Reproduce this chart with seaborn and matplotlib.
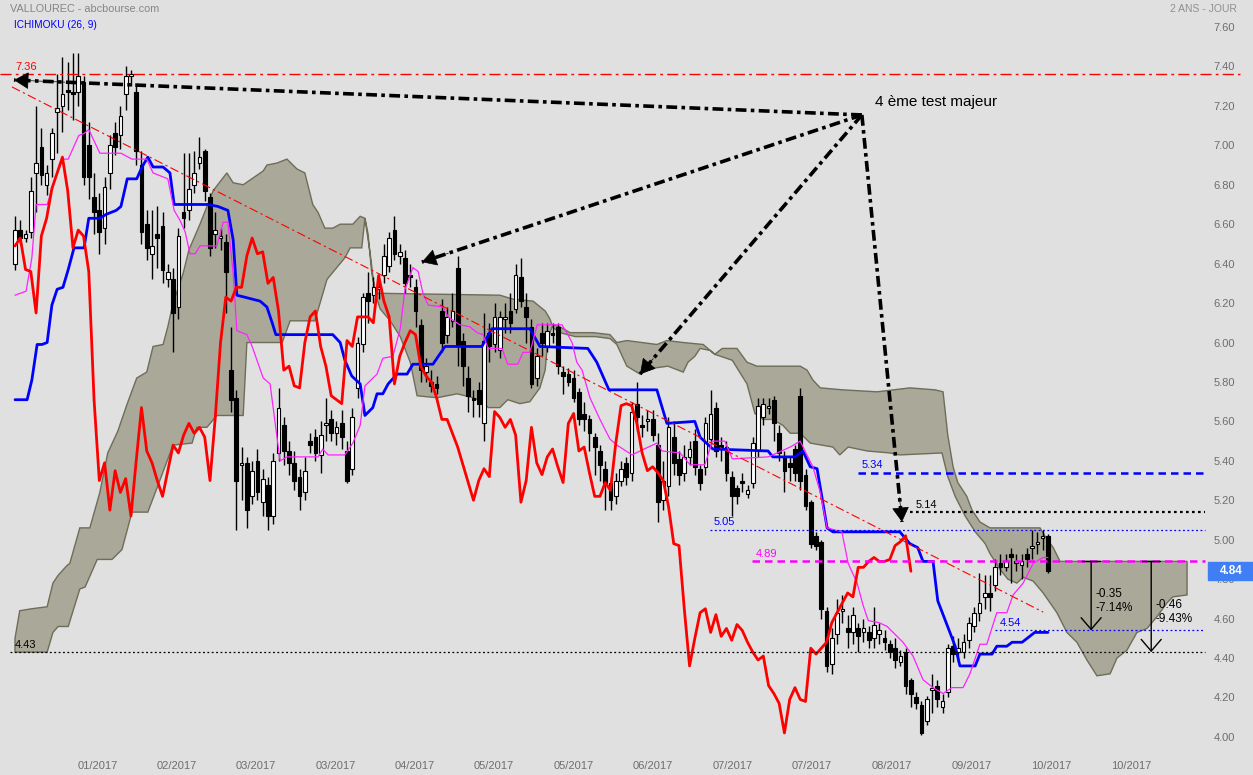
import numpy as np
import matplotlib
matplotlib.use('Agg')
import matplotlib.pyplot as plt
from matplotlib.patches import Rectangle
from matplotlib.transforms import blended_transform_factory
import seaborn as sns

# --- daily candles (oldest first) ---
opens = [6.40, 6.57, 6.53, 6.56, 6.86, 6.99, 6.80, 6.93, 7.17, 7.20,
         7.28, 7.27, 7.27, 7.32, 7.00, 6.74, 6.67, 6.58, 6.86, 7.06,
         7.05, 7.26, 7.35, 7.27, 6.90, 6.60, 6.45, 6.55, 6.59, 6.32,
         6.32, 6.18, 6.66, 6.67, 6.80, 6.91, 6.97, 6.74, 6.55, 6.53,
         6.51, 5.86, 5.72, 5.38, 5.39, 5.22, 5.40, 5.19, 5.28, 5.12,
         5.44, 5.58, 5.45, 5.39, 5.32, 5.24, 5.50, 5.52, 5.43, 5.58,
         5.61, 5.54, 5.59, 5.45, 5.36, 5.77, 5.99, 6.25, 6.24, 6.27,
         6.34, 6.39, 6.57, 6.44, 6.43, 6.34, 6.28, 6.09, 5.85, 5.80,
         5.79, 6.16, 6.04, 6.11, 6.38, 6.01, 5.82, 5.72, 5.76, 5.59,
         6.05, 5.99, 5.96, 6.12, 6.16, 6.17, 6.33, 6.18, 6.08, 5.82,
         6.05, 5.98, 6.05, 6.08, 5.85, 5.84, 5.82, 5.75, 5.64, 5.61,
         5.52, 5.45, 5.36, 5.29, 5.22, 5.30, 5.39, 5.34, 5.69, 5.58,
         5.60, 5.61, 5.48, 5.20, 5.27, 5.52, 5.41, 5.34, 5.42, 5.50,
         5.36, 5.37, 5.51, 5.67, 5.48, 5.47, 5.32, 5.26, 5.30, 5.23,
         5.29, 5.45, 5.62, 5.67, 5.71, 5.54, 5.42, 5.39, 5.46, 5.73,
         5.33, 5.19, 5.02, 4.99, 4.64, 4.37, 4.52, 4.64, 4.55, 4.53,
         4.55, 4.53, 4.53, 4.50, 4.52, 4.50, 4.47, 4.45, 4.38, 4.43,
         4.29, 4.20, 4.16, 4.08, 4.24, 4.26, 4.15, 4.23, 4.46, 4.43,
         4.43, 4.49, 4.56, 4.63, 4.71, 4.73, 4.77, 4.88, 4.86, 4.93,
         4.88, 4.87, 4.93, 4.96, 4.98, 5.01, 5.02]
highs = [6.64, 6.62, 6.57, 6.84, 7.20, 7.09, 6.90, 7.09, 7.36, 7.45,
         7.42, 7.47, 7.47, 7.35, 7.12, 6.86, 6.76, 6.84, 7.05, 7.12,
         7.20, 7.40, 7.38, 7.30, 6.97, 6.67, 6.67, 6.69, 6.66, 6.40,
         6.38, 6.58, 6.96, 6.96, 6.97, 7.04, 6.98, 6.76, 6.66, 6.58,
         6.55, 6.08, 5.76, 5.47, 5.42, 5.40, 5.46, 5.36, 5.32, 5.44,
         5.77, 5.62, 5.50, 5.45, 5.36, 5.42, 5.54, 5.56, 5.60, 5.72,
         5.66, 5.60, 5.66, 5.50, 5.67, 6.03, 6.25, 6.36, 6.33, 6.32,
         6.50, 6.56, 6.64, 6.50, 6.47, 6.40, 6.32, 6.12, 5.92, 5.86,
         5.83, 6.22, 6.18, 6.25, 6.44, 6.05, 5.88, 5.76, 5.80, 6.15,
         6.10, 6.20, 6.16, 6.20, 6.25, 6.40, 6.43, 6.25, 6.12, 5.97,
         6.10, 6.10, 6.10, 6.10, 5.88, 5.87, 5.86, 5.77, 5.70, 5.63,
         5.54, 5.48, 5.40, 5.32, 5.34, 5.40, 5.42, 5.70, 5.80, 5.63,
         5.66, 5.66, 5.54, 5.40, 5.62, 5.60, 5.45, 5.48, 5.50, 5.56,
         5.38, 5.62, 5.76, 5.70, 5.52, 5.50, 5.35, 5.28, 5.34, 5.28,
         5.52, 5.72, 5.72, 5.72, 5.73, 5.58, 5.45, 5.42, 5.48, 5.77,
         5.36, 5.20, 5.04, 5.00, 4.66, 4.55, 4.70, 4.72, 4.62, 4.66,
         4.58, 4.60, 4.56, 4.66, 4.58, 4.54, 4.49, 4.50, 4.44, 4.45,
         4.30, 4.23, 4.18, 4.21, 4.32, 4.29, 4.22, 4.47, 4.51, 4.50,
         4.52, 4.61, 4.66, 4.83, 4.82, 4.82, 4.90, 4.93, 4.93, 4.96,
         4.93, 4.93, 4.96, 5.05, 5.04, 5.05, 5.03]
lows = [6.37, 6.50, 6.51, 6.53, 6.66, 6.80, 6.75, 6.84, 6.96, 7.07,
        7.18, 7.13, 7.20, 6.80, 6.73, 6.55, 6.45, 6.50, 6.78, 6.95,
        6.98, 7.18, 7.30, 6.90, 6.50, 6.42, 6.32, 6.38, 6.30, 6.28,
        5.95, 6.12, 6.58, 6.62, 6.76, 6.88, 6.72, 6.44, 6.48, 6.47,
        6.15, 5.65, 5.05, 5.20, 5.06, 5.18, 5.20, 5.12, 5.05, 5.08,
        5.40, 5.38, 5.33, 5.25, 5.15, 5.20, 5.44, 5.40, 5.34, 5.50,
        5.50, 5.48, 5.46, 5.29, 5.33, 5.72, 5.95, 6.10, 6.20, 6.22,
        6.30, 6.36, 6.42, 6.40, 6.25, 6.28, 6.08, 5.80, 5.80, 5.75,
        5.74, 5.95, 6.00, 6.08, 5.88, 5.78, 5.65, 5.62, 5.62, 5.50,
        5.90, 5.95, 5.92, 6.05, 6.05, 6.15, 6.18, 6.00, 5.77, 5.78,
        5.93, 5.95, 6.00, 5.84, 5.74, 5.78, 5.70, 5.58, 5.55, 5.45,
        5.33, 5.30, 5.15, 5.15, 5.18, 5.27, 5.28, 5.30, 5.55, 5.52,
        5.55, 5.50, 5.09, 5.15, 5.22, 5.33, 5.28, 5.30, 5.38, 5.33,
        5.25, 5.33, 5.48, 5.42, 5.40, 5.30, 5.12, 5.18, 5.24, 5.21,
        5.26, 5.42, 5.58, 5.64, 5.50, 5.40, 5.24, 5.30, 5.30, 5.25,
        5.15, 4.96, 4.95, 4.60, 4.33, 4.32, 4.47, 4.58, 4.45, 4.47,
        4.43, 4.48, 4.45, 4.45, 4.47, 4.44, 4.40, 4.35, 4.36, 4.22,
        4.15, 4.14, 4.01, 4.06, 4.12, 4.15, 4.12, 4.20, 4.38, 4.38,
        4.40, 4.45, 4.53, 4.59, 4.65, 4.64, 4.74, 4.82, 4.84, 4.78,
        4.84, 4.80, 4.86, 4.90, 4.93, 4.95, 4.83]
closes = [6.57, 6.53, 6.55, 6.77, 6.91, 6.85, 6.86, 7.06, 7.19, 7.26,
          7.27, 7.26, 7.35, 6.84, 6.84, 6.66, 6.56, 6.79, 7.00, 6.99,
          7.15, 7.35, 7.36, 6.97, 6.56, 6.48, 6.49, 6.53, 6.37, 6.36,
          6.15, 6.54, 6.63, 6.78, 6.86, 6.94, 6.77, 6.48, 6.57, 6.54,
          6.36, 5.71, 5.30, 5.39, 5.15, 5.35, 5.24, 5.31, 5.12, 5.40,
          5.67, 5.45, 5.39, 5.30, 5.22, 5.35, 5.48, 5.44, 5.53, 5.59,
          5.54, 5.57, 5.52, 5.30, 5.62, 6.00, 6.23, 6.21, 6.28, 6.28,
          6.44, 6.53, 6.45, 6.46, 6.30, 6.33, 6.16, 5.86, 5.88, 5.78,
          5.77, 6.00, 6.13, 6.16, 5.98, 5.88, 5.73, 5.71, 5.69, 6.01,
          5.98, 6.13, 6.13, 6.13, 6.10, 6.34, 6.21, 6.13, 5.79, 5.93,
          6.00, 6.06, 6.04, 5.88, 5.83, 5.80, 5.72, 5.61, 5.61, 5.54,
          5.47, 5.38, 5.29, 5.20, 5.30, 5.36, 5.32, 5.65, 5.62, 5.57,
          5.61, 5.53, 5.19, 5.30, 5.57, 5.39, 5.33, 5.42, 5.46, 5.37,
          5.29, 5.59, 5.64, 5.45, 5.47, 5.34, 5.22, 5.22, 5.29, 5.25,
          5.49, 5.68, 5.69, 5.68, 5.59, 5.44, 5.35, 5.37, 5.34, 5.30,
          5.17, 4.98, 4.97, 4.65, 4.36, 4.50, 4.63, 4.65, 4.53, 4.62,
          4.51, 4.55, 4.49, 4.57, 4.54, 4.48, 4.43, 4.39, 4.41, 4.26,
          4.22, 4.17, 4.02, 4.19, 4.25, 4.19, 4.18, 4.45, 4.42, 4.45,
          4.48, 4.58, 4.63, 4.68, 4.73, 4.71, 4.86, 4.86, 4.89, 4.91,
          4.89, 4.89, 4.90, 4.97, 4.99, 5.02, 4.84]

# --- Ichimoku lines, vertices as (candle index, price) ---
tenkan_x = [0, 2.1, 3.2, 4.0, 6.1, 8.0, 9.1, 10.1, 12.1, 13.1, 14.0, 16.1, 20.1, 22.2, 25.0, 26.2,
            29.0, 30.2, 31.3, 32.3, 33.2, 34.2, 35.1, 38.3, 39.5, 40.4, 41.4, 42.1, 44.0, 45.0,
            47.1, 48.4, 50.3, 51.6, 57.5, 58.4, 59.4, 62.6, 64.1, 65.5, 66.4, 68.7, 69.8, 71.7,
            73.1, 74.0, 75.5, 76.5, 77.4, 78.4, 81.2, 82.2, 84.4, 86.3, 87.7, 88.8, 89.8, 92.4,
            93.5, 95.4, 96.4, 97.7, 99.1, 103.8, 104.7, 105.7, 106.6, 107.6, 109.1, 111.0, 112.9,
            114.2, 117.1, 118.6, 121.8, 122.8, 126.2, 128.1, 130.9, 132.3, 134.7, 136.1, 142.9,
            144.6, 147.1, 149.0, 149.9, 151.4, 152.8, 154.1, 156.9, 158.1, 159.8, 160.9, 161.9,
            163.9, 165.5, 168.5, 170.4, 172.3, 174.2, 176.1, 177.8, 179.9, 181.2, 183.1, 184.4,
            186.3, 188.2, 189.4, 191.3, 193.2, 195.1, 196]
tenkan_y = [6.24, 6.26, 6.43, 6.70, 6.70, 6.86, 6.93, 6.93, 7.05, 7.06, 7.08, 6.96, 6.96, 6.93, 6.93, 6.86,
            6.83, 6.67, 6.62, 6.56, 6.45, 6.45, 6.49, 6.49, 6.61, 6.61, 6.35, 6.06, 6.04, 5.98,
            5.82, 5.79, 5.40, 5.42, 5.42, 5.46, 5.43, 5.43, 5.49, 5.58, 5.78, 5.84, 5.92, 5.93,
            6.07, 6.27, 6.38, 6.36, 6.25, 6.19, 6.18, 6.13, 6.09, 6.08, 6.05, 6.04, 5.97, 5.97,
            5.89, 5.89, 5.95, 5.95, 6.09, 6.09, 6.05, 6.00, 5.90, 5.86, 5.72, 5.61, 5.51,
            5.48, 5.43, 5.45, 5.49, 5.45, 5.44, 5.38, 5.38, 5.50, 5.50, 5.41, 5.42,
            5.44, 5.47, 5.50, 5.45, 5.37, 5.24, 5.06, 5.04, 4.88, 4.78, 4.67, 4.59,
            4.58, 4.56, 4.48, 4.41, 4.29, 4.25, 4.22, 4.25, 4.25, 4.32, 4.47, 4.47,
            4.63, 4.63, 4.72, 4.78, 4.88, 4.91, 4.91]
kijun_x = [0, 2.3, 3.2, 4.2, 5.1, 6.1, 7.0, 8.0, 9.1, 10.1, 11.2, 13.1, 14.0, 16.1, 17.3, 19.2, 20.1,
           21.3, 23.1, 24.1, 25.2, 26.2, 28.1, 29.4, 30.2, 36.6, 38.5, 40.4, 41.4, 42.1, 46.5,
           47.8, 48.8, 49.5, 60.3, 61.7, 62.6, 63.9, 65.5, 66.4, 67.9, 68.7, 69.8, 70.8, 72.5,
           74.4, 75.5, 79.3, 81.6, 88.6, 90.5, 97.7, 99.6, 108.7, 110.4, 112.7, 121.8, 123.7,
           129.0, 130.0, 132.4, 142.9, 143.8, 148.0, 149.5, 150.9, 152.2, 154.1, 155.2, 167.9,
           169.8, 171.3, 172.3, 174.2, 175.1, 177.4, 178.4, 179.3, 182.2, 183.1, 185.4, 186.3,
           188.2, 189.2, 191.1, 193.5, 196]
kijun_y = [5.71, 5.71, 5.81, 5.99, 5.99, 6.00, 6.19, 6.27, 6.28, 6.37, 6.48, 6.48, 6.63, 6.63, 6.65, 6.67, 6.69,
           6.83, 6.83, 6.89, 6.94, 6.89, 6.89, 6.86, 6.70, 6.70, 6.69, 6.67, 6.52, 6.24, 6.21,
           6.18, 6.10, 6.04, 6.04, 6.00, 5.91, 5.83, 5.79, 5.63, 5.67, 5.74, 5.74, 5.79, 5.84,
           5.84, 5.89, 5.89, 5.98, 5.98, 6.07, 6.07, 5.98, 5.97, 5.90, 5.76, 5.76, 5.59,
           5.60, 5.52, 5.46, 5.45, 5.42, 5.42, 5.45, 5.37, 5.36, 5.06, 5.04, 5.04,
           4.98, 4.96, 4.89, 4.89, 4.69, 4.53, 4.46, 4.36, 4.36, 4.42, 4.42, 4.46,
           4.46, 4.48, 4.48, 4.53, 4.53]

# --- Kumo (cloud) outline ---
cloud_top_x = [0, 0.9, 3.2, 6.1, 7.2, 8.2, 9.9, 10.4, 12.3, 14.2, 16.1, 17.6, 19.5, 21.3, 23.1, 25.0,
               26.2, 28.1, 29.0, 30.0, 31.9, 33.0, 35.1, 37.6, 40.2, 41.4, 43.3, 47.1, 47.8, 49.7,
               51.6, 53.5, 55.0, 56.5, 57.5, 58.8, 60.3, 61.7, 64.1, 65.5, 66.4, 67.4, 68.3, 92.0,
               94.5, 98.3, 100.6, 101.5, 101.9, 103.4, 105.3, 109.7, 112.9, 114.2, 116.1, 121.8,
               123.7, 126.8, 130.6, 131.9, 132.8, 134.2, 137.0, 138.9, 140.8, 149.0, 150.3, 151.4,
               152.8, 157.1, 163.6, 169.8, 174.6, 176.1, 177.0, 178.0, 178.9, 180.6, 181.6, 183.1,
               185.0, 194.5, 195.4, 197.0, 198.3, 222.4]
cloud_top_y = [4.50, 4.64, 4.65, 4.66, 4.78, 4.82, 4.87, 4.88, 5.06, 5.06, 5.24, 5.44, 5.55, 5.69, 5.82, 5.85,
               5.98, 5.99, 6.08, 6.20, 6.35, 6.47, 6.60, 6.77, 6.86, 6.81, 6.80, 6.87, 6.90, 6.91,
               6.93, 6.88, 6.86, 6.70, 6.66, 6.58, 6.58, 6.60, 6.60, 6.64, 6.63, 6.45, 6.25, 6.24,
               6.22, 6.21, 6.16, 6.12, 6.09, 6.08, 6.05, 6.05, 6.04, 6.00, 6.01, 5.99,
               6.01, 6.00, 5.99, 5.96, 5.94, 5.97, 5.97, 5.90, 5.88, 5.88, 5.86, 5.81,
               5.77, 5.76, 5.75, 5.77, 5.76, 5.75, 5.53, 5.37, 5.29, 5.22, 5.15, 5.09,
               5.06, 5.06, 5.02, 4.96, 4.89, 4.89]
cloud_bot_x = [0, 6.1, 7.2, 8.2, 10.1, 12.3, 13.3, 15.6, 18.4, 20.3, 22.2, 25.2, 26.2, 30.0, 33.6, 34.5,
               36.4, 38.3, 43.3, 44.0, 50.7, 52.2, 56.9, 59.2, 62.6, 63.6, 65.8, 66.4, 67.0, 67.7,
               68.7, 69.3, 71.2, 73.1, 75.0, 76.3, 80.1, 83.9, 86.9, 88.6, 89.8, 92.0, 93.5, 95.8,
               97.7, 99.6, 100.6, 101.1, 101.9, 103.4, 106.3, 110.1, 112.9, 114.2, 116.1, 118.6,
               121.1, 123.9, 126.8, 127.7, 129.0, 130.0, 131.9, 132.8, 136.1, 138.9, 140.4, 141.9,
               143.8, 145.7, 147.1, 149.0, 150.9, 155.2, 156.5, 158.1, 161.7, 166.0, 167.9, 175.9,
               177.0, 178.4, 180.3, 182.2, 184.1, 185.0, 186.9, 188.4, 190.1, 191.3, 193.2, 195.1,
               196.4, 197.7, 199.6, 201.5, 203.4, 205.3, 207.8, 209.1, 211.0, 212.9, 214.8, 216.7,
               218.6, 219.7, 222.4]
cloud_bot_y = [4.43, 4.43, 4.53, 4.56, 4.56, 4.75, 4.76, 4.90, 4.90, 4.95, 5.14, 5.14, 5.21, 5.48, 5.49, 5.57,
               5.57, 5.63, 5.63, 6.00, 6.00, 6.11, 6.11, 6.32, 6.43, 6.48, 6.48, 6.63, 6.55, 6.35,
               6.22, 6.17, 6.11, 6.03, 5.90, 5.73, 5.72, 5.74, 5.72, 5.70, 5.67, 5.67, 5.71, 5.69,
               5.70, 5.77, 5.86, 6.01, 6.08, 6.05, 6.03, 6.03, 6.02, 5.99, 5.88, 5.84,
               5.87, 5.88, 5.85, 5.90, 5.93, 5.97, 5.96, 5.94, 5.91, 5.79, 5.64, 5.61,
               5.61, 5.58, 5.54, 5.54, 5.49, 5.47, 5.43, 5.47, 5.45, 5.44, 5.43, 5.44,
               5.32, 5.22, 5.12, 5.04, 4.98, 4.93, 4.85, 4.80, 4.78, 4.81, 4.79, 4.73,
               4.68, 4.63, 4.53, 4.48, 4.39, 4.31, 4.32, 4.40, 4.44, 4.53, 4.55, 4.61,
               4.68, 4.71, 4.72]

SHIFT = 26  # chikou span = close drawn 26 sessions back

# --- x labels ---
month_pos = [15.7, 30.6, 45.7, 60.9, 75.9, 90.9, 106.1, 121.0, 136.2, 151.2, 166.4, 181.6, 196.6, 211.8]
month_labels = ['01/2017', '02/2017', '03/2017', '03/2017', '04/2017', '05/2017', '05/2017',
                '06/2017', '07/2017', '07/2017', '08/2017', '09/2017', '10/2017', '10/2017']

# --- drawn levels: value, start index, colour, style, width ---
levels = [7.36, 5.34, 5.14, 5.05, 4.89, 4.54, 4.43]
level_start = [-2.8, 160.0, 169.8, 131.9, 139.8, 186.0, -1.0]
level_label_x = [0.0, 160.7, 170.8, 132.6, 140.6, 186.9, 0.0]
level_colors = ['#ff0000', '#0000ff', '#000000', '#0000ff', '#ff00ff', '#0000ff', '#000000']
level_styles = [(0, (8, 3, 2, 3)), (0, (3, 2)), (0, (1.2, 1.5)), (0, (1.5, 2)), (0, (3, 2)), (0, (1.5, 2)), (0, (1.5, 2))]
level_widths = [1.0, 1.8, 1.6, 0.9, 1.8, 0.9, 0.9]

sns.set_theme(style='white')
plt.rcParams['font.family'] = ['Liberation Sans', 'DejaVu Sans']

W, H = 1253, 775
fig = plt.figure(figsize=(W / 100, H / 100), dpi=100)
fig.patch.set_facecolor('#e0e0e0')
ax = fig.add_axes([0, 25 / H, 1205 / W, 750 / H])
ax.set_facecolor('#e0e0e0')
ax.set_xlim(-15 / 5.27, 1190 / 5.27)
ax.set_ylim(7.6 - 723 / 197.2, 7.6 + 27 / 197.2)
for s in ax.spines.values():
    s.set_visible(False)

o = np.array(opens); h = np.array(highs); l = np.array(lows); c = np.array(closes)
idx = np.arange(len(c))

# --- cloud ---
cx = np.r_[cloud_top_x, cloud_bot_x[::-1]]
cy = np.r_[cloud_top_y, cloud_bot_y[::-1]]
ax.fill(cx, cy, facecolor='#aaa999', edgecolor='#6d6d58', lw=1, zorder=1)

# --- candles ---
up = c >= o
ax.vlines(idx, l, h, color='black', lw=1, zorder=3)
bottom = np.minimum(o, c)
height = np.maximum(np.abs(c - o), 0.008)
ax.bar(idx[up], height[up], bottom=bottom[up], width=0.7, color='white', edgecolor='black', lw=0.8, zorder=4)
ax.bar(idx[~up], height[~up], bottom=bottom[~up], width=0.7, color='black', edgecolor='black', lw=0.8, zorder=4)

# --- ichimoku lines ---
sns.lineplot(x=idx[:-SHIFT], y=c[SHIFT:], ax=ax, color='#ff0000', lw=2.0, zorder=6, estimator=None, sort=False)
sns.lineplot(x=kijun_x, y=kijun_y, ax=ax, color='#0000ff', lw=2.0, zorder=5, estimator=None, sort=False)
sns.lineplot(x=tenkan_x, y=tenkan_y, ax=ax, color='#ff22ff', lw=0.9, zorder=5, estimator=None, sort=False)

# --- trend line (red dash-dot) ---
ax.plot([-0.57, 195.1], [7.296, 4.633], color='#ff0000', lw=0.8, ls=(0, (8, 3, 2, 3)), zorder=7)

# --- horizontal levels ---
for v, x0, lx, col, st, lw in zip(levels, level_start, level_label_x, level_colors, level_styles, level_widths):
    x1 = 232.4 if v == 7.36 else 225.8
    ax.plot([x0, x1], [v, v], color=col, ls=st, lw=lw, zorder=7, clip_on=False)
    ax.text(lx, v + 0.012, f'{v:.2f}', color=col, fontsize=8, ha='left', va='bottom', zorder=8)

# --- "4 eme test majeur" arrows ---
apex = (160.7, 7.154)
targets = [(-0.2, 7.331), (77.2, 6.408), (118.6, 5.840), (168.3, 5.090)]
for tx, ty in targets:
    ax.plot([apex[0], tx], [apex[1], ty], color='black', lw=2.6, ls=(0, (3, 1.2, 1, 1.2)), zorder=8)
    bx = tx + 0.06 * (apex[0] - tx)
    by = ty + 0.06 * (apex[1] - ty)
    ax.annotate('', xy=(tx, ty), xytext=(bx, by),
                arrowprops=dict(arrowstyle='-|>,head_length=0.6,head_width=0.35', color='black',
                                lw=0.5, mutation_scale=16, shrinkA=0, shrinkB=0), zorder=9)
ax.text(163.2, 7.22, '4 ème test majeur', fontsize=11, color='black', ha='left', va='center', zorder=9)

# --- drawdown markers ---
for xm, top, bot, txt, ty in [(204.2, 4.89, 4.54, '-0.35\n-7.14%', 4.69), (215.6, 4.89, 4.43, '-0.46\n-9.43%', 4.633)]:
    ax.plot([xm - 1.7, xm + 1.7], [top, top], color='black', lw=1, zorder=8, clip_on=False)
    ax.annotate('', xy=(xm, bot), xytext=(xm, top),
                arrowprops=dict(arrowstyle='->,head_length=0.7,head_width=0.6', color='black', lw=1,
                                mutation_scale=12, shrinkA=0, shrinkB=0), zorder=8)
    ax.text(xm + 0.9, ty, txt, fontsize=8.5, color='black', ha='left', va='center', linespacing=1.25, zorder=8)

# --- axes ticks ---
ax.yaxis.tick_right()
ax.set_yticks(np.round(np.arange(4.0, 7.61, 0.2), 2))
ax.set_yticklabels([f'{v:.2f}' for v in np.arange(4.0, 7.61, 0.2)])
ax.tick_params(axis='y', length=0, pad=6, labelsize=8, labelcolor='#6e6e6e')
ax.set_xticks(month_pos)
ax.set_xticklabels(month_labels)
ax.tick_params(axis='x', length=0, pad=8, labelsize=8, labelcolor='#6e6e6e')
ax.set_xlabel(''); ax.set_ylabel('')

# --- last price box ---
tr = blended_transform_factory(fig.transFigure, ax.transData)
last = closes[-1]
ax.add_patch(Rectangle((1208 / W, last - 0.046), 45 / W, 0.092, transform=tr, color='#3f7ef5',
                       clip_on=False, zorder=10))
ax.text(1231 / W, last, f'{last:.2f}', transform=tr, color='white', fontsize=8.5, fontweight='bold',
        ha='center', va='center', zorder=11, clip_on=False)

# --- titles ---
fig.text(10 / W, 1 - 9 / H, 'VALLOUREC - abcbourse.com', fontsize=7.8, color='#858585', va='center')
fig.text(14 / W, 1 - 25 / H, 'ICHIMOKU (26, 9)', fontsize=7.3, color='#0000ff', va='center')
fig.text(1237 / W, 1 - 9 / H, '2 ANS - JOUR', fontsize=7.5, color='#909090', va='center', ha='right')

fig.savefig('out.png', dpi=100, facecolor=fig.get_facecolor())
